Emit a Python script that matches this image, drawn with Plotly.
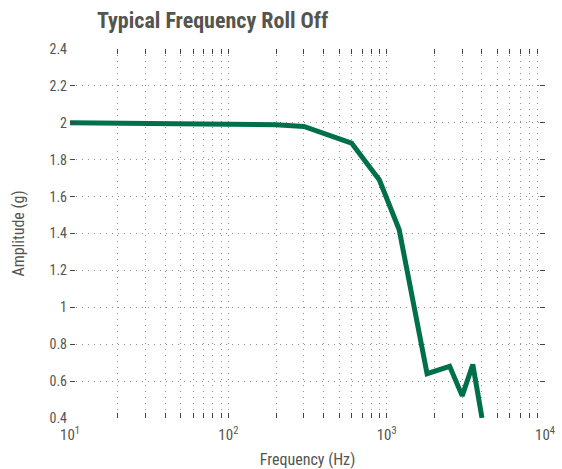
import plotly.graph_objects as go

freq_hz = [10, 100, 200, 300, 600, 900, 1200, 1800, 2500, 3000, 3500, 4000]
amplitude_g = [2.0, 1.995, 1.99, 1.98, 1.89, 1.69, 1.42, 0.64, 0.68, 0.52, 0.69, 0.40]

x_tick_vals = [m * 10 ** e for e in range(1, 4) for m in range(1, 10)] + [10000]
major_labels = {10: "10<sup>1</sup>", 100: "10<sup>2</sup>", 1000: "10<sup>3</sup>", 10000: "10<sup>4</sup>"}
x_tick_text = [major_labels.get(v, "") for v in x_tick_vals]

y_tick_vals = [0.4, 0.6, 0.8, 1.0, 1.2, 1.4, 1.6, 1.8, 2.0, 2.2, 2.4]
y_tick_text = ["0.4", "0.6", "0.8", "1", "1.2", "1.4", "1.6", "1.8", "2", "2.2", "2.4"]

FONT = "Roboto Condensed, Roboto, sans-serif"
GRAY = "#555550"

fig = go.Figure()
fig.add_trace(go.Scatter(
    x=freq_hz, y=amplitude_g, mode="lines",
    line=dict(color="#00704A", width=5),
    hoverinfo="skip", showlegend=False,
))

fig.update_layout(
    width=562, height=469,
    margin=dict(l=70, r=17, t=49, b=51),
    paper_bgcolor="white", plot_bgcolor="white",
    font=dict(family=FONT, color=GRAY, size=14),
    title=dict(
        text="<b>Typical Frequency Roll Off</b>",
        font=dict(family=FONT, size=22, color=GRAY),
        xref="container", yref="container",
        x=97 / 562, xanchor="left",
        y=1 - 20 / 469, yanchor="middle",
    ),
)

grid_kw = dict(showgrid=True, gridcolor="#8f8f8f", gridwidth=1, griddash="1px,5px")

fig.update_xaxes(
    type="log", range=[1, 4], automargin=False,
    tickmode="array", tickvals=x_tick_vals, ticktext=x_tick_text,
    ticks="inside", ticklen=5, tickcolor="#444", tickwidth=1,
    mirror="ticks", showline=False, zeroline=False,
    tickfont=dict(size=15, color=GRAY), ticklabelstandoff=6,
    title=dict(text="Frequency (Hz)", font=dict(size=16, color=GRAY), standoff=12),
    **grid_kw,
)

fig.update_yaxes(
    range=[0.4, 2.4], automargin=False,
    tickmode="array", tickvals=y_tick_vals, ticktext=y_tick_text,
    ticks="inside", ticklen=5, tickcolor="#444", tickwidth=1,
    mirror="ticks", showline=False, zeroline=False,
    tickfont=dict(size=14, color=GRAY), ticklabelstandoff=2,
    title=dict(text="Amplitude (g)", font=dict(size=16, color=GRAY), standoff=20),
    **grid_kw,
)

fig.write_html("out.html", config={"displayModeBar": False},
               post_script="document.body.style.margin='0';")
